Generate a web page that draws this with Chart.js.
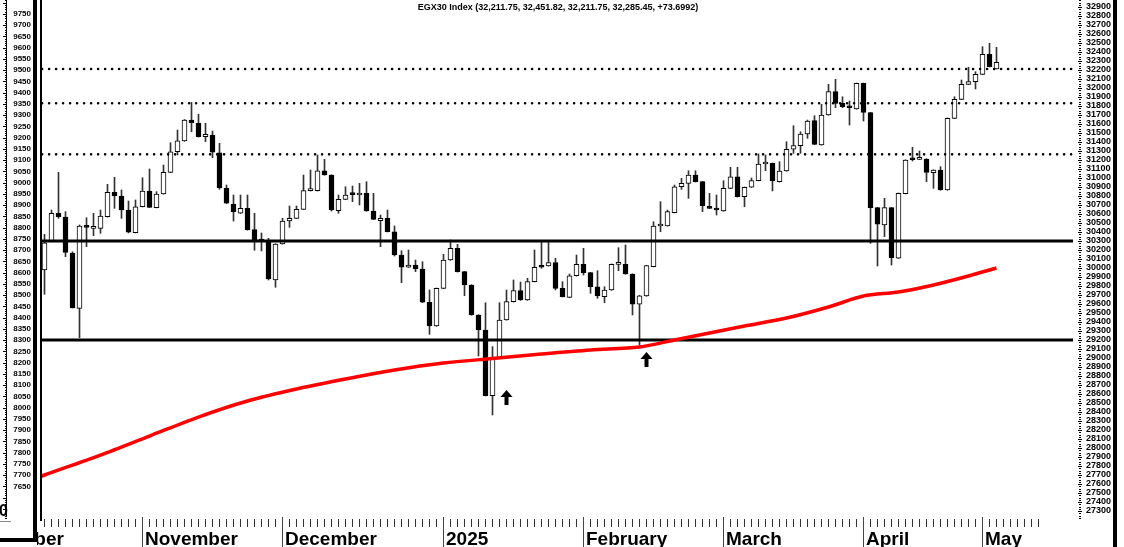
<!DOCTYPE html>
<html><head><meta charset="utf-8">
<script src="https://cdn.jsdelivr.net/npm/chart.js@4.4.1/dist/chart.umd.min.js"></script>
<style>html,body{margin:0;padding:0;background:#fff;overflow:hidden}canvas{display:block}</style>
</head><body>
<canvas id="c" width="1124" height="547"></canvas>
<script>
// ---------------- DATA ----------------
const titleText = 'EGX30 Index (32,211.75, 32,451.82, 32,211.75, 32,285.45, +73.6992)';
const monthNames  = ['October','November','December','2025','February','March','April','May'];
const monthStarts = [-8, 14, 34, 57, 77, 97, 117, 134];
const opens = [29978,30292,30608,30567,30167,29552,30462,30441,30441,30570,30841,30800,30644,30392,30681,30856,30670,30822,31063,31292,31411,31644,31608,31459,31478,31281,30885,30711,30608,30663,30426,30305,30303,29867,30267,30522,30552,30652,30859,30859,31081,31033,30637,30763,30818,30811,30830,30633,30526,30552,30403,30144,30008,30033,29989,29619,29356,29774,30089,30219,29959,29811,29478,29311,28581,28997,29422,29626,29748,29644,29848,30022,30022,30059,29774,29674,29914,30041,29948,29792,29681,29756,30041,30041,29933,29597,29689,30015,30467,30467,30615,30903,30941,31033,30959,30681,30663,30633,30885,31014,30792,30897,30970,31156,31163,30959,31078,31319,31359,31489,31637,31367,31700,31959,31830,31792,31767,32052,31726,30670,30478,30670,30108,30826,31207,31207,31211,31059,31089,30867,31663,31874,32041,32070,32152,32374,32212];
const highs = [30374,30644,31063,30626,30180,30478,30559,30608,30644,30930,31008,30867,30744,30756,31003,31100,30848,31144,31392,31533,31650,31841,31708,31608,31522,31386,30922,30811,30811,30811,30608,30389,30330,30270,30552,30689,30689,31033,31089,31256,31208,31036,30811,30903,30911,30941,30959,30830,30589,30644,30467,30192,30200,30089,30070,29756,29778,30152,30311,30263,29962,29815,29482,29614,29126,29614,29756,29867,29844,29886,30200,30292,30292,30108,29848,29933,30144,30219,29952,29970,29792,30045,30226,30256,29936,29696,30030,30514,30737,30644,30922,30997,31081,31081,30962,30830,30811,30970,31119,31119,30900,31000,31267,31256,31166,31181,31403,31581,31514,31644,31692,31819,32041,32097,31903,31856,32055,32055,31730,30673,30774,30673,30833,31203,31341,31300,31215,31092,31126,31667,31903,32089,32230,32181,32459,32497,32452];
const lows = [29708,30290,30552,30126,29555,29226,30237,30359,30386,30565,30663,30552,30390,30390,30678,30670,30668,30820,31060,31256,31408,31514,31455,31403,31226,30874,30715,30522,30605,30420,30197,30189,29867,29786,30265,30452,30550,30650,30855,30855,31030,30633,30608,30760,30737,30700,30630,30538,30237,30400,30133,29837,30005,29959,29615,29263,29352,29770,30085,29955,29692,29475,29022,28578,28367,28995,29420,29622,29640,29640,29845,29997,30020,29756,29678,29670,29910,29922,29719,29663,29614,29752,29970,29930,29478,29145,29686,30012,30403,30465,30612,30874,30774,30955,30626,30660,30589,30630,30882,30788,30681,30895,30968,31081,30856,30955,31075,31274,31274,31441,31370,31364,31697,31781,31781,31589,31764,31633,30274,30022,30348,30033,30105,30823,31189,31205,30959,30885,30864,30864,31660,31870,32038,31989,32148,32233,32212];
const closes = [30281,30608,30570,30174,29559,30467,30452,30452,30578,30841,30800,30644,30397,30681,30856,30674,30822,31063,31292,31414,31644,31614,31459,31486,31286,30892,30719,30626,30663,30426,30308,30300,29878,30267,30522,30552,30652,30859,30865,31081,31033,30644,30763,30811,30815,30830,30633,30541,30552,30403,30144,30008,30033,29989,29619,29356,29774,30089,30219,29959,29811,29478,29311,28581,28997,29422,29626,29748,29644,29848,30008,30008,30059,29774,29681,29914,30041,29948,29792,29689,29756,30041,30045,29933,29597,29692,30026,30467,30472,30626,30903,30941,31033,30959,30689,30663,30644,30885,31014,30792,30897,30970,31156,31160,30967,31078,31319,31359,31489,31633,31374,31700,31959,31830,31792,31781,32052,31730,30670,30486,30670,30114,30830,31200,31203,31211,31063,31089,30867,31663,31874,32041,32070,32152,32374,32237,32285];
// moving average (read at sample days)
const maDays = [-1, 0, 8, 15, 22, 29, 36, 43, 50, 57, 64, 71, 78, 85, 90, 95, 100, 106, 112, 117, 122, 127, 132, 136];
const maVals = [27670, 27700, 27922, 28133, 28344, 28522, 28656, 28767, 28867, 28944, 28994, 29044, 29089, 29122, 29200, 29278, 29356, 29444, 29567, 29689, 29733, 29811, 29911, 30000];
const solidLevels  = [30300, 29200];
const dottedLevels = [32211, 31830, 31263];
const arrowDays = [66, 86];
const arrowVals = [28644, 29067];
const rightTickLabels = [27300,27400,27500,27600,27700,27800,27900,28000,28100,28200,28300,28400,28500,28600,28700,28800,28900,29000,29100,29200,29300,29400,29500,29600,29700,29800,29900,30000,30100,30200,30300,30400,30500,30600,30700,30800,30900,31000,31100,31200,31300,31400,31500,31600,31700,31800,31900,32000,32100,32200,32300,32400,32500,32600,32700,32800,32900];
const leftTickLabels = [7650,7700,7750,7800,7850,7900,7950,8000,8050,8100,8150,8200,8250,8300,8350,8400,8450,8500,8550,8600,8650,8700,8750,8800,8850,8900,8950,9000,9050,9100,9150,9200,9250,9300,9350,9400,9450,9500,9550,9600,9650,9700,9750];
const leftPanelFooter = '0';
const lastTickDay = 142;

// ---------------- LAYOUT CONSTANTS ----------------
const W = 1124, H = 547;
const plotLeft = 40, plotRight = 1073, plotBottom = 519;
const xMin = -0.642857, xMax = xMin + (plotRight - plotLeft) / 7;
const yMax = 32977.8, yMin = yMax - plotBottom * 11.1111;
const yLMax = 9812.2, yLMin = yLMax - plotBottom / 0.225;
const FONT = '"Liberation Sans", Arial, sans-serif';

const days = opens.map((_, i) => i);
const tickDays = [];
for (let d = 0; d <= lastTickDay; d++) tickDays.push(d);

const decoPlugin = {
  id: 'deco',
  beforeDraw(chart) {
    const ctx = chart.ctx;
    ctx.save(); ctx.fillStyle = '#fff'; ctx.fillRect(0, 0, W, H); ctx.restore();
  },
  afterDraw(chart) {
    const ctx = chart.ctx;
    const xs = chart.scales.x, yR = chart.scales.y, yL = chart.scales.yL;
    ctx.save();
    // title
    ctx.fillStyle = '#000';
    ctx.font = 'bold 9px ' + FONT;
    ctx.textAlign = 'center'; ctx.textBaseline = 'middle';
    ctx.fillText(titleText, 558, 8);
    // right axis tick marks
    for (let v = 27225; v <= 32975; v += 25) {
      const py = Math.round(yR.getPixelForValue(v));
      if (v % 100 === 0) ctx.fillRect(1078, py, 4, 1);
      else ctx.fillRect(1079, py, 2, 1);
    }
    // left ruler
    for (let v = 7510; v <= 9810; v += 10) {
      const py = Math.round(yL.getPixelForValue(v));
      if (v % 50 === 0) ctx.fillRect(3, py, 4, 1);
      else ctx.fillRect(5, py, 2, 1);
    }
    ctx.fillRect(6, 0, 1, plotBottom - 2);
    // left panel footer value
    ctx.font = 'bold 16px ' + FONT;
    ctx.textAlign = 'left'; ctx.textBaseline = 'alphabetic';
    ctx.fillText(leftPanelFooter, -1, 516);
    ctx.fillStyle = '#888';
    ctx.fillRect(0, 521, 11, 1);
    ctx.fillStyle = '#000';
    // arrows
    arrowDays.forEach((d, i) => {
      const px = xs.getPixelForValue(d), py = yR.getPixelForValue(arrowVals[i]);
      ctx.beginPath();
      ctx.moveTo(px, py); ctx.lineTo(px - 6, py + 7); ctx.lineTo(px + 6, py + 7); ctx.closePath();
      ctx.fill();
      ctx.fillRect(px - 2, py + 7, 4, 8);
    });
    // month separators + labels
    ctx.save();
    ctx.beginPath(); ctx.rect(37, 0, W, H); ctx.clip();
    ctx.font = 'bold 19px ' + FONT;
    ctx.textAlign = 'left'; ctx.textBaseline = 'alphabetic';
    monthStarts.forEach((d, i) => {
      const px = Math.round(xs.getPixelForValue(d)) + 0.5;
      ctx.strokeStyle = '#444'; ctx.lineWidth = 1;
      ctx.beginPath(); ctx.moveTo(px, plotBottom - 2); ctx.lineTo(px, H); ctx.stroke();
      ctx.fillText(monthNames[i], px + 2.5, 545);
    });
    ctx.restore();
    // borders
    ctx.fillStyle = '#000';
    ctx.fillRect(33, 0, 4, 542);
    ctx.fillRect(0, 538, 37, 4);
    ctx.fillRect(40, 0, 2, plotBottom + 2);
    ctx.fillRect(1113, 0, 4, H);
    ctx.restore();
  }
};

new Chart(document.getElementById('c'), {
  type: 'bar',
  data: {
    datasets: [
      {
        type: 'line', label: 'MA', order: 0,
        data: maDays.map((d, i) => ({ x: d, y: maVals[i] })),
        borderColor: '#ff0000', borderWidth: 3.5, pointRadius: 0, tension: 0.3, fill: false, yAxisID: 'y'
      },
      ...solidLevels.map(v => ({
        type: 'line', label: 'S' + v, order: 0,
        data: [{ x: xMin, y: v }, { x: xMax, y: v }],
        borderColor: '#000', borderWidth: 3, pointRadius: 0, fill: false, yAxisID: 'y'
      })),
      ...dottedLevels.map(v => ({
        type: 'line', label: 'D' + v, order: 0,
        data: [{ x: xMin + 0.3, y: v }, { x: xMax, y: v }],
        borderColor: '#000', borderWidth: 2.6, borderDash: [0, 7], borderCapStyle: 'round',
        pointRadius: 0, fill: false, yAxisID: 'y'
      })),
      {
        type: 'bar', label: 'body', order: 1, grouped: false, yAxisID: 'y',
        data: days.map(i => ({ x: i, y: [opens[i], closes[i]] })),
        backgroundColor: days.map(i => closes[i] >= opens[i] ? '#ffffff' : '#000000'),
        borderColor: '#000', borderWidth: 1, borderSkipped: false,
        maxBarThickness: 5, minBarLength: 2, barPercentage: 1, categoryPercentage: 1
      },
      {
        type: 'bar', label: 'wick', order: 2, grouped: false, yAxisID: 'y',
        data: days.map(i => ({ x: i, y: [lows[i], highs[i]] })),
        backgroundColor: '#333', borderWidth: 0,
        maxBarThickness: 1, barPercentage: 1, categoryPercentage: 1
      }
    ]
  },
  options: {
    responsive: false, animation: false, devicePixelRatio: 1,
    layout: { padding: 0 },
    plugins: { legend: { display: false }, tooltip: { enabled: false }, title: { display: false } },
    scales: {
      x: {
        type: 'linear', min: xMin, max: xMax, offset: false, position: 'bottom',
        afterBuildTicks: s => { s.ticks = tickDays.map(v => ({ value: v })); },
        afterFit: s => { s.height = H - plotBottom; s.paddingLeft = 0; s.paddingRight = 0; },
        ticks: { display: false },
        grid: { display: true, drawOnChartArea: false, drawTicks: true, tickLength: 8, color: '#333', lineWidth: 1, offset: false },
        border: { display: false }
      },
      y: {
        type: 'linear', position: 'right', min: yMin, max: yMax,
        afterBuildTicks: s => { s.ticks = rightTickLabels.map(v => ({ value: v })); },
        afterFit: s => { s.width = W - plotRight; s.paddingTop = 0; s.paddingBottom = 0; },
        ticks: { autoSkip: false, padding: 13, color: '#000', font: { family: FONT, size: 9, weight: 'bold' }, callback: v => String(v) },
        grid: { display: false, drawTicks: false }, border: { display: false }
      },
      yL: {
        type: 'linear', position: 'left', min: yLMin, max: yLMax,
        afterBuildTicks: s => { s.ticks = leftTickLabels.map(v => ({ value: v })); },
        afterFit: s => { s.width = plotLeft; s.paddingTop = 0; s.paddingBottom = 0; },
        ticks: { autoSkip: false, padding: 9, color: '#000', font: { family: FONT, size: 8, weight: 'bold' }, callback: v => String(v) },
        grid: { display: false, drawTicks: false }, border: { display: false }
      }
    }
  },
  plugins: [decoPlugin]
});
</script>
</body></html>
